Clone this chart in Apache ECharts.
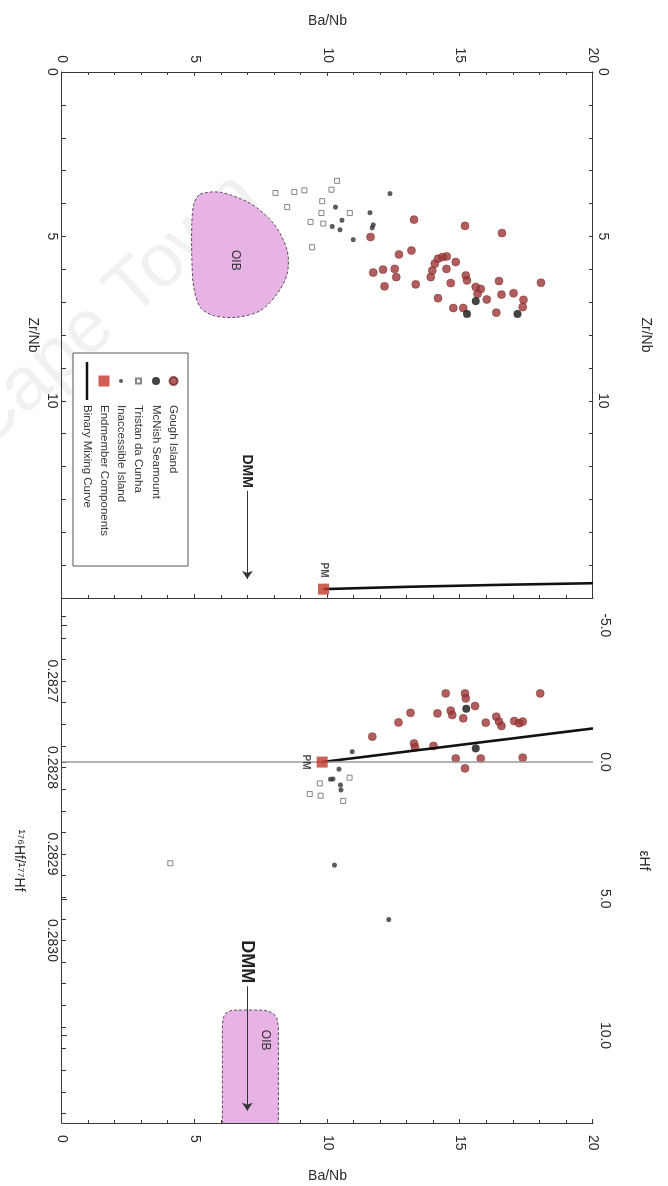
<!DOCTYPE html>
<html><head><meta charset="utf-8">
<script src="https://cdn.jsdelivr.net/npm/echarts@6/dist/echarts.min.js"></script>
<style>
html,body{margin:0;padding:0;background:#fff;overflow:hidden}
#wrap{position:absolute;left:0;top:0;width:668px;height:1186px;overflow:hidden;background:#fff}
#wm{position:absolute;right:408px;top:140px;font:75px 'Liberation Sans',Arial,sans-serif;line-height:1;color:#f1f1f1;white-space:nowrap;transform-origin:100% 60px;transform:rotate(-42deg)}
#chart{position:absolute;left:0;top:0;width:1186px;height:668px;transform-origin:0 0;transform:translate(668px,0) rotate(90deg)}
</style></head>
<body><div id="wrap"><div id="wm">Cape Town</div><div id="chart"></div></div>
<script>
// ---------- tick / label values ----------
const baNbRange = [0, 20];
const zrNbRange = [0, 16];
const epsRange = [-6, 13.2];
const hfRange = [0.282604, 0.283211];
const zrLabelValues = [0, 5, 10];
const zrTickValues = [0,1,2,3,4,5,6,7,8,9,10,11,12,13,14,15,16];
const epsLabelValues = [-5, 0, 5, 10];
const hfLabelValues = [0.2827, 0.2828, 0.2829, 0.2830];
const hfTickValues = [0.282625,0.28265,0.282675,0.2827,0.282725,0.28275,0.282775,0.2828,0.282825,0.28285,0.282875,0.2829,0.282925,0.28295,0.282975,0.2830,0.283025,0.28305,0.283075,0.2831,0.283125,0.28315,0.283175,0.2832];

// ---------- Zr/Nb panel: [Zr/Nb, Ba/Nb] ----------
const goughZr = [[4.49,13.26],[4.68,15.18],[4.90,16.57],[5.02,11.62],[5.55,12.69],[5.43,13.16],[6.10,11.72],[6.01,12.09],[5.99,12.53],[6.24,12.59],[6.52,12.15],[6.46,13.32],[6.24,13.89],[5.83,14.04],[5.68,14.16],[5.63,14.33],[5.61,14.49],[6.04,13.95],[5.99,14.48],[5.78,14.83],[6.42,14.64],[6.19,15.21],[6.34,15.25],[6.54,15.58],[6.60,15.77],[6.75,15.65],[6.36,16.46],[6.77,16.55],[6.73,17.01],[6.92,16.00],[6.93,17.38],[7.15,17.35],[6.41,18.04],[6.88,14.16],[7.18,14.74],[7.18,15.11],[7.32,16.36]];
const mcnishZr = [[6.97,15.58],[7.36,15.25],[7.36,17.16]];
const tristanZr = [[3.31,10.36],[3.58,10.15],[3.93,9.80],[4.29,10.84],[4.29,9.77],[3.68,8.04],[3.65,8.75],[3.60,9.13],[4.11,8.48],[4.56,9.36],[4.61,9.84],[5.33,9.42]];
const inaccessibleZr = [[3.70,12.35],[4.11,10.30],[4.51,10.55],[4.70,10.18],[4.80,10.47],[5.10,10.97],[4.28,11.60],[4.65,11.72],[4.74,11.69]];
const endmemberZr = [[15.73,9.85]];
const mixingZr = [[15.73,9.85],[15.66,13.0],[15.60,16.5],[15.55,20.0]];
const oibZr = [[3.72,5.20],[3.66,5.96],[4.00,7.09],[4.61,7.97],[5.43,8.48],[6.14,8.48],[6.75,8.10],[7.26,7.47],[7.46,6.59],[7.41,5.71],[7.16,5.21],[6.54,4.96],[5.63,4.89],[4.61,4.89],[4.00,4.97]];
const oibZrLabel = [5.73, 6.53];
const dmmZr = [[12.74, 6.98], [15.42, 6.98]];

// ---------- Hf panel: [eHf, Ba/Nb] ----------
const goughHf = [[-2.51,14.45],[-2.51,15.18],[-2.33,15.21],[-2.51,18.01],[-2.05,15.56],[-1.80,13.13],[-1.78,14.14],[-1.88,14.64],[-1.72,14.70],[-1.60,15.11],[-1.45,12.67],[-1.44,15.96],[-1.66,16.36],[-1.48,16.46],[-1.32,16.55],[-1.50,17.03],[-1.42,17.22],[-1.48,17.35],[-0.93,11.69],[-0.68,13.26],[-0.54,13.30],[-0.59,13.99],[-0.13,14.83],[-0.13,15.77],[-0.16,17.35],[0.23,15.18]];
const mcnishHf = [[-1.95,15.23],[-0.50,15.58]];
const tristanHf = [[0.57,10.83],[0.78,9.71],[1.23,9.74],[1.17,9.33],[1.42,10.59],[3.70,4.08]];
const inaccessibleHf = [[-0.38,10.93],[0.26,10.43],[0.63,10.11],[0.62,10.21],[0.84,10.49],[1.02,10.51],[3.77,10.26],[5.76,12.31]];
const endmemberHf = [[0.0,9.80]];
const mixingHf = [[0.0,9.80],[-1.23,20.0]];
const oibHf = [[13.4,6.04],[9.65,6.04],[9.35,6.07],[9.18,6.17],[9.09,6.35],[9.07,6.60],[9.07,7.45],[9.10,7.75],[9.20,7.97],[9.38,8.10],[9.70,8.15],[13.4,8.15]];
const oibHfLabel = [10.17, 7.66];
const dmmHf = [[8.20, 6.98], [12.75, 6.98]];

const legendNames = ['Gough Island','McNish Seamount','Tristan da Cunha','Inaccessible Island','Endmember Components','Binary Mixing Curve'];

// ---------- build ----------
const F = "'Liberation Sans', Arial, Helvetica, sans-serif";
const TXT = '#2a2a2a';
const AX = '#3a3a3a';

function baseAxis(extra) {
  return Object.assign({
    type: 'value',
    splitLine: { show: false },
    axisLine: { show: true, onZero: false, lineStyle: { color: AX, width: 1 } },
    axisTick: { show: true, inside: true, length: 4, lineStyle: { color: AX } },
    axisLabel: { color: TXT, fontSize: 14, fontFamily: F },
    nameTextStyle: { color: TXT, fontSize: 14, fontFamily: F },
    nameLocation: 'middle'
  }, extra);
}

function oibSeries(pts, labelPos, xi, yi, smooth) {
  return {
    type: 'custom', name: 'OIB', xAxisIndex: xi, yAxisIndex: yi, clip: true, silent: true, z: 1,
    data: pts,
    renderItem: function (params, api) {
      if (params.dataIndex !== 0) return null;
      const points = pts.map(p => api.coord(p));
      const lp = api.coord(labelPos);
      return {
        type: 'group',
        children: [
          { type: 'polygon', shape: { points: points, smooth: smooth },
            style: { fill: '#e6b3e4', stroke: '#5e4a5e', lineWidth: 1, lineDash: [3, 2] } },
          { type: 'text', style: { text: 'OIB', x: lp[0], y: lp[1], align: 'center', verticalAlign: 'middle', textAlign: 'center', textVerticalAlign: 'middle', font: '12px ' + F, fill: '#333' } }
        ]
      };
    }
  };
}

function dmmSeries(seg, xi, yi, fs) {
  return {
    type: 'line', name: 'DMM', xAxisIndex: xi, yAxisIndex: yi, data: [], z: 5,
    markLine: {
      silent: true, animation: false,
      symbol: ['none', 'arrow'], symbolSize: 8,
      lineStyle: { color: '#333', width: 1.2, type: 'solid' },
      label: { show: true, position: 'start', formatter: 'DMM', fontWeight: 'bold', fontSize: fs, color: '#222', fontFamily: F, distance: 3 },
      data: [[{ coord: seg[0] }, { coord: seg[1] }]]
    }
  };
}

const S = {
  gough: { symbol: 'circle', symbolSize: 8, itemStyle: { color: '#9c3636', borderColor: '#7a2a2a', borderWidth: 0.6 } },
  mcnish: { symbol: 'circle', symbolSize: 8, itemStyle: { color: '#141414' } },
  tristan: { symbol: 'rect', symbolSize: 5, itemStyle: { color: '#ffffff', borderColor: '#666', borderWidth: 1 } },
  inacc: { symbol: 'circle', symbolSize: 5, itemStyle: { color: '#333' } },
  end: { symbol: 'rect', symbolSize: 11, itemStyle: { color: '#c4372c' } }
};

const legendIcons = {
  'Gough Island': 'path://M0,0M11,11M1.5,5.5a4,4 0 1,0 8,0a4,4 0 1,0 -8,0z',
  'McNish Seamount': 'path://M0,0M11,11M1.5,5.5a4,4 0 1,0 8,0a4,4 0 1,0 -8,0z',
  'Tristan da Cunha': 'path://M0,0M11,11M3,3h5v5h-5z',
  'Inaccessible Island': 'path://M0,0M11,11M3.5,5.5a2,2 0 1,0 4,0a2,2 0 1,0 -4,0z',
  'Endmember Components': 'path://M0,0h11v11h-11z',
  'Binary Mixing Curve': 'path://M0,0M38,11M0,4.2h38v2.6h-38z'
};

function sc(name, data, xi, yi, st, extra) {
  return Object.assign({ type: 'scatter', name: name, data: data, xAxisIndex: xi, yAxisIndex: yi, z: 3 }, st, extra || {});
}

const option = {
  animation: false,
  backgroundColor: 'transparent',
  grid: [
    { left: 72, top: 75, width: 526, height: 531 },
    { left: 598, top: 75, width: 525, height: 531 }
  ],
  legend: {
    data: legendNames.map(n => ({ name: n, icon: legendIcons[n] })),
    orient: 'vertical', left: 353, top: 480,
    backgroundColor: '#fff', borderColor: '#555', borderWidth: 1,
    padding: [8, 30, 8, 9], itemGap: 5, itemWidth: 38, itemHeight: 11,
    textStyle: { fontSize: 11.5, color: '#333', fontFamily: F }
  },
  xAxis: [
    baseAxis({ gridIndex: 0, position: 'bottom', min: zrNbRange[0], max: zrNbRange[1],
      axisLabel: { customValues: zrLabelValues, margin: 3, color: TXT, fontSize: 14, fontFamily: F },
      axisTick: { customValues: zrTickValues, inside: true, length: 4, lineStyle: { color: AX } },
      name: 'Zr/Nb', nameGap: 3 }),
    baseAxis({ gridIndex: 0, position: 'top', min: zrNbRange[0], max: zrNbRange[1],
      axisLabel: { customValues: zrLabelValues, margin: 3, color: TXT, fontSize: 14, fontFamily: F },
      axisTick: { customValues: zrTickValues, inside: true, length: 4, lineStyle: { color: AX } },
      name: 'Zr/Nb', nameGap: 46 }),
    baseAxis({ gridIndex: 1, position: 'top', min: epsRange[0], max: epsRange[1],
      axisLine: { show: false },
      axisLabel: { customValues: epsLabelValues, margin: 5, color: TXT, fontSize: 14, fontFamily: F, formatter: v => v.toFixed(1) },
      axisTick: { customValues: epsLabelValues, inside: false, length: 5, lineStyle: { color: AX } },
      name: 'εHf', nameGap: 44 }),
    baseAxis({ gridIndex: 1, position: 'bottom', min: hfRange[0], max: hfRange[1],
      axisLabel: { customValues: hfLabelValues, margin: 3, color: TXT, fontSize: 14, fontFamily: F, formatter: v => v.toFixed(4) },
      axisTick: { customValues: hfTickValues, inside: true, length: 4, lineStyle: { color: AX } },
      name: '¹⁷⁶Hf/¹⁷⁷Hf', nameGap: 36 })
  ],
  yAxis: [
    baseAxis({ gridIndex: 0, position: 'left', min: baNbRange[0], max: baNbRange[1], interval: 5,
      minorTick: { show: true, splitNumber: 5, length: 3, lineStyle: { color: AX } },
      axisLabel: { margin: 9, color: TXT, fontSize: 14, fontFamily: F },
      name: 'Ba/Nb', nameRotate: 90, nameGap: 44 }),
    baseAxis({ gridIndex: 1, position: 'right', min: baNbRange[0], max: baNbRange[1], interval: 5,
      minorTick: { show: true, splitNumber: 5, length: 3, lineStyle: { color: AX } },
      axisLabel: { margin: 12, color: TXT, fontSize: 14, fontFamily: F },
      name: 'Ba/Nb', nameRotate: 90, nameGap: 46 }),
    baseAxis({ gridIndex: 0, position: 'right', min: baNbRange[0], max: baNbRange[1], interval: 5,
      minorTick: { show: true, splitNumber: 5, length: 3, lineStyle: { color: AX } },
      axisLabel: { show: false }, axisTick: { show: true, inside: true, length: 4, lineStyle: { color: AX } } })
  ],
  series: [
    oibSeries(oibZr, oibZrLabel, 0, 0, 0.3),
    oibSeries(oibHf, oibHfLabel, 2, 1, 0),
    {
      type: 'line', name: 'Binary Mixing Curve', data: mixingHf, xAxisIndex: 2, yAxisIndex: 1,
      symbol: 'none', lineStyle: { color: '#111', width: 2.6 }, itemStyle: { color: '#111' }, z: 4,
      markLine: { silent: true, symbol: 'none', label: { show: false },
        lineStyle: { color: '#9a9a9a', width: 1.5, type: 'solid' }, data: [{ xAxis: 0 }] }
    },
    { type: 'line', name: 'Binary Mixing Curve', data: mixingZr, xAxisIndex: 0, yAxisIndex: 0,
      symbol: 'none', lineStyle: { color: '#111', width: 2.6 }, itemStyle: { color: '#111' }, z: 4 },
    sc('Tristan da Cunha', tristanZr, 0, 0, S.tristan),
    sc('Tristan da Cunha', tristanHf, 2, 1, S.tristan),
    sc('Inaccessible Island', inaccessibleZr, 0, 0, S.inacc),
    sc('Inaccessible Island', inaccessibleHf, 2, 1, S.inacc),
    sc('Gough Island', goughZr, 0, 0, S.gough),
    sc('Gough Island', goughHf, 2, 1, S.gough),
    sc('McNish Seamount', mcnishZr, 0, 0, S.mcnish),
    sc('McNish Seamount', mcnishHf, 2, 1, S.mcnish),
    sc('Endmember Components', endmemberZr, 0, 0, S.end, { z: 6,
      label: { show: true, formatter: 'PM', position: 'left', distance: 6, fontWeight: 'bold', fontSize: 10, color: '#222', fontFamily: F } }),
    sc('Endmember Components', endmemberHf, 2, 1, S.end, { z: 6,
      label: { show: true, formatter: 'PM', position: 'bottom', distance: 6, fontWeight: 'bold', fontSize: 10, color: '#222', fontFamily: F } }),
    dmmSeries(dmmZr, 0, 0, 14),
    dmmSeries(dmmHf, 2, 1, 18)
  ]
};

const chart = echarts.init(document.getElementById('chart'), null, { renderer: 'canvas', width: 1186, height: 668 });
chart.setOption(option);
</script>
</body></html>
